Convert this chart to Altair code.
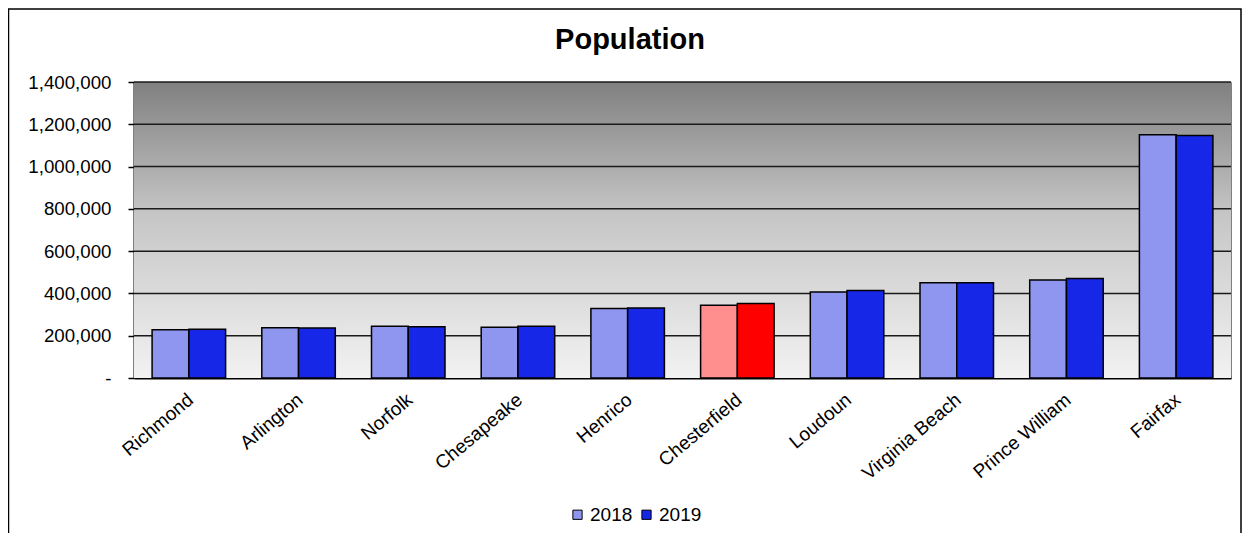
import altair as alt
import pandas as pd

counties = ["Richmond", "Arlington", "Norfolk", "Chesapeake", "Henrico",
            "Chesterfield", "Loudoun", "Virginia Beach", "Prince William", "Fairfax"]
pop2018 = [228783, 237521, 244703, 240397, 329261, 343599, 406850, 450189, 463023, 1150795]
pop2019 = [230436, 236842, 242742, 244835, 330818, 352802, 413538, 449974, 470335, 1147532]
years = ["2018", "2019"]
highlight = "Chesterfield"
grid_values = [200000, 400000, 600000, 800000, 1000000, 1200000, 1400000]
tick_values = [0, 200000, 400000, 600000, 800000, 1000000, 1200000, 1400000]
title_text = ["Population"]

rows = []
for c, a, b in zip(counties, pop2018, pop2019):
    for y, v in zip(years, [a, b]):
        rows.append({"county": c, "year": y, "pop": v,
                     "series": y + ("c" if c == highlight else "")})
df = pd.DataFrame(rows)

W, H = 1097, 296
FONT = "Liberation Sans"

color_scale = alt.Scale(domain=["2018", "2019", "2018c", "2019c"],
                        range=["#8e96f0", "#1627e8", "#ff8e8e", "#ff0000"])
y_scale = alt.Scale(domain=[0, 1400000], nice=False)

bg = alt.Chart(pd.DataFrame({"k": [0]})).mark_rect(
    color=alt.Gradient(gradient="linear", x1=0, y1=0, x2=0, y2=1,
                       stops=[alt.GradientStop(offset=0, color="#808080"),
                              alt.GradientStop(offset=0.45, color="#c6c6c6"),
                              alt.GradientStop(offset=1, color="#f2f2f2")])
).encode(x=alt.value(0), x2=alt.value(W), y=alt.value(0), y2=alt.value(H))

grid = alt.Chart(pd.DataFrame({"v": grid_values})).mark_rule(
    color="#1a1a1a", strokeWidth=1.5).encode(y=alt.Y("v:Q", scale=y_scale))

bars = alt.Chart(df).mark_bar(stroke="black", strokeWidth=1.5).encode(
    x=alt.X("county:N", sort=counties,
            scale=alt.Scale(paddingInner=0.33, paddingOuter=0.165),
            axis=alt.Axis(title=None, labelAngle=-40, labelAlign="right",
                          labelBaseline="top", labelFontSize=19, labelPadding=12,
                          labelOffset=-4,
                          ticks=False, domainColor="black", domainWidth=2,
                          labelColor="black", labelFont=FONT)),
    xOffset=alt.XOffset("year:N", sort=years),
    y=alt.Y("pop:Q", scale=y_scale,
            axis=alt.Axis(title=None, values=tick_values,
                          labelExpr="datum.value == 0 ? '-\u00a0\u00a0' : format(datum.value, ',')",
                          labelFontSize=18.7, labelColor="black", labelFont=FONT,
                          tickColor="black", tickSize=6, tickWidth=1.5, labelPadding=17,
                          domainColor="black", domainWidth=2, grid=False)),
    color=alt.Color("series:N", scale=color_scale,
                    legend=alt.Legend(title=None, values=["2018", "2019"],
                                      orient="none", legendX=434, legendY=423,
                                      direction="horizontal", symbolType="square",
                                      symbolSize=85, symbolStrokeColor="black",
                                      symbolStrokeWidth=1, labelFontSize=19,
                                      labelFont=FONT, labelColor="black",
                                      columnPadding=4, labelOffset=3)),
)

title = alt.Chart(pd.DataFrame({"t": title_text})).mark_text(
    font=FONT, fontSize=29, fontWeight="bold", color="black",
    align="center", baseline="alphabetic").encode(
    text="t:N", x=alt.value(496), y=alt.value(-33))

frame = alt.Chart(pd.DataFrame({"k": [0]})).mark_rect(
    fill=None, stroke="black", strokeWidth=1.5, clip=False).encode(
    x=alt.value(-125.5), x2=alt.value(W + 10), y=alt.value(-73), y2=alt.value(H + 200))

chart = alt.layer(bg, grid, bars, title, frame).properties(
    width=W, height=H,
    autosize=alt.AutoSizeParams(type="none"),
    padding={"left": 126, "top": 74, "right": 11, "bottom": 155},
).configure_view(stroke="#808080")

chart.save("out.html", embed_options={"renderer": "svg", "actions": False})
